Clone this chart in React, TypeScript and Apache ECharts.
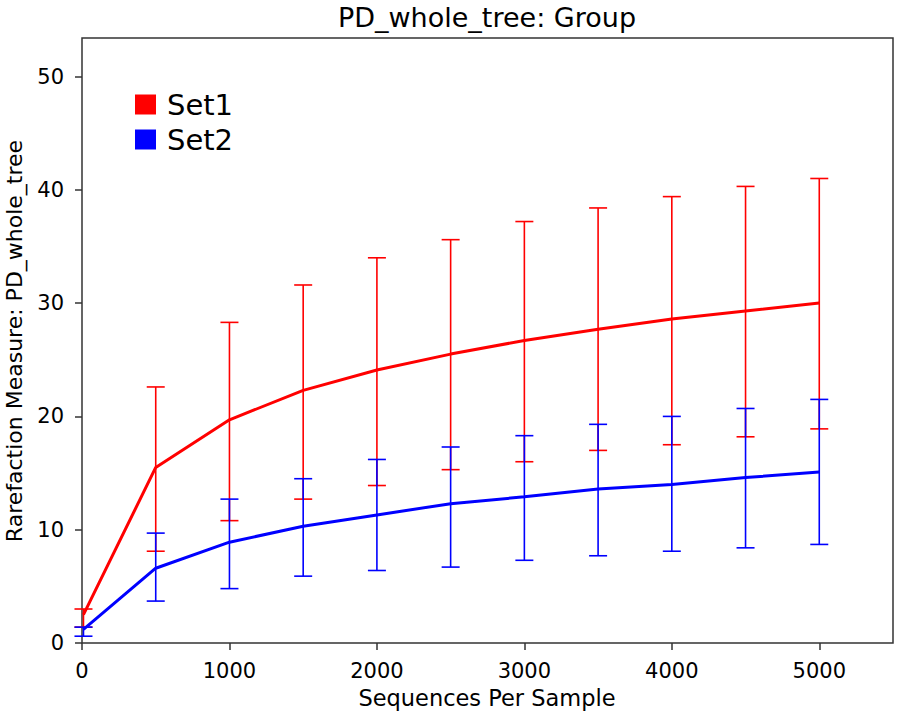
import React, { useEffect, useRef } from "react";
import * as echarts from "echarts";

const sequencesPerSample = [10, 500, 1000, 1500, 2000, 2500, 3000, 3500, 4000, 4500, 5000];

const set1Mean = [2.5, 15.5, 19.7, 22.3, 24.1, 25.5, 26.7, 27.7, 28.6, 29.3, 30.0];
const set1Upper = [3.0, 22.6, 28.3, 31.6, 34.0, 35.6, 37.2, 38.4, 39.4, 40.3, 41.0];
const set1Lower = [1.4, 8.1, 10.8, 12.7, 13.9, 15.3, 16.0, 17.0, 17.5, 18.2, 18.9];

const set2Mean = [1.2, 6.6, 8.9, 10.3, 11.3, 12.3, 12.9, 13.6, 14.0, 14.6, 15.1];
const set2Upper = [1.4, 9.7, 12.7, 14.5, 16.2, 17.3, 18.3, 19.3, 20.0, 20.7, 21.5];
const set2Lower = [0.6, 3.7, 4.8, 5.9, 6.4, 6.7, 7.3, 7.7, 8.1, 8.4, 8.7];

const xTicks = [0, 1000, 2000, 3000, 4000, 5000];
const yTicks = [0, 10, 20, 30, 40, 50];

const FONT = "DejaVu Sans";

function errorBarSeries(name: string, color: string, lower: number[], upper: number[]) {
  return {
    type: "custom",
    name: name + "_err",
    z: 2,
    silent: true,
    data: sequencesPerSample.map((x, i) => [x, lower[i], upper[i]]),
    encode: { x: 0, y: [1, 2] },
    renderItem: (params: any, api: any) => {
      const x = api.value(0);
      const top = api.coord([x, api.value(2)]);
      const bot = api.coord([x, api.value(1)]);
      const hw = 9;
      const style = { stroke: color, lineWidth: 1.6 };
      return {
        type: "group",
        children: [
          { type: "line", shape: { x1: top[0], y1: top[1], x2: bot[0], y2: bot[1] }, style },
          { type: "line", shape: { x1: top[0] - hw, y1: top[1], x2: top[0] + hw, y2: top[1] }, style },
          { type: "line", shape: { x1: bot[0] - hw, y1: bot[1], x2: bot[0] + hw, y2: bot[1] }, style },
        ],
      };
    },
  };
}

export default function App() {
  const ref = useRef<HTMLDivElement>(null);
  useEffect(() => {
    if (!ref.current) return;
    const chart = echarts.init(ref.current, null, { renderer: "svg" });
    chart.setOption({
      animation: false,
      backgroundColor: "#ffffff",
      grid: {
        left: 82,
        right: 5,
        top: 38,
        bottom: 71,
        show: true,
        borderColor: "#333",
        borderWidth: 1.5,
        backgroundColor: "transparent",
      },
      legend: {
        orient: "vertical",
        left: 130,
        top: 85,
        itemWidth: 21,
        itemHeight: 20,
        itemGap: 6,
        icon: "rect",
        data: [
          { name: "Set1", itemStyle: { color: "#ff0000" } },
          { name: "Set2", itemStyle: { color: "#0000ff" } },
        ],
        textStyle: { fontFamily: FONT, fontSize: 29, color: "#000", padding: [0, 0, 0, 6] },
      },
      xAxis: {
        type: "value",
        min: 0,
        max: 5500,
        interval: 1000,
        splitLine: { show: false },
        axisLine: { show: false },
        axisTick: { show: true, length: 7, lineStyle: { color: "#333", width: 1.5 }, customValues: xTicks },
        axisLabel: {
          fontFamily: FONT,
          fontSize: 21,
          color: "#000",
          margin: 17,
          customValues: xTicks,
          formatter: (v: number) => String(v),
        },
      },
      yAxis: {
        type: "value",
        min: 0,
        max: 53.4,
        interval: 10,
        splitLine: { show: false },
        axisLine: { show: false },
        axisTick: { show: true, length: 7, lineStyle: { color: "#333", width: 1.5 }, customValues: yTicks },
        axisLabel: {
          fontFamily: FONT,
          fontSize: 21,
          color: "#000",
          margin: 18,
          customValues: yTicks,
          formatter: (v: number) => String(v),
        },
      },
      graphic: [
        {
          type: "text",
          x: 487,
          y: 17,
          style: {
            text: "PD_whole_tree: Group",
            fontFamily: FONT,
            fontSize: 27,
            fill: "#000",
            align: "center",
            verticalAlign: "middle",
          },
        },
        {
          type: "text",
          x: 487,
          y: 698,
          style: {
            text: "Sequences Per Sample",
            fontFamily: FONT,
            fontSize: 22.5,
            fill: "#000",
            align: "center",
            verticalAlign: "middle",
          },
        },
        {
          type: "text",
          x: 14,
          y: 341,
          rotation: Math.PI / 2,
          style: {
            text: "Rarefaction Measure: PD_whole_tree",
            fontFamily: FONT,
            fontSize: 22,
            fill: "#000",
            align: "center",
            verticalAlign: "middle",
          },
        },
      ],
      series: [
        errorBarSeries("Set1", "#ff0000", set1Lower, set1Upper),
        {
          type: "line",
          name: "Set1",
          z: 3,
          data: sequencesPerSample.map((x, i) => [x, set1Mean[i]]),
          showSymbol: false,
          symbol: "none",
          lineStyle: { color: "#ff0000", width: 3 },
          itemStyle: { color: "#ff0000" },
        },
        errorBarSeries("Set2", "#0000ff", set2Lower, set2Upper),
        {
          type: "line",
          name: "Set2",
          z: 3,
          data: sequencesPerSample.map((x, i) => [x, set2Mean[i]]),
          showSymbol: false,
          symbol: "none",
          lineStyle: { color: "#0000ff", width: 3 },
          itemStyle: { color: "#0000ff" },
        },
      ],
    });
    return () => chart.dispose();
  }, []);
  return (
    <div
      ref={ref}
      style={{ position: "fixed", left: 0, top: 0, width: 898, height: 714, background: "#fff" }}
    />
  );
}
